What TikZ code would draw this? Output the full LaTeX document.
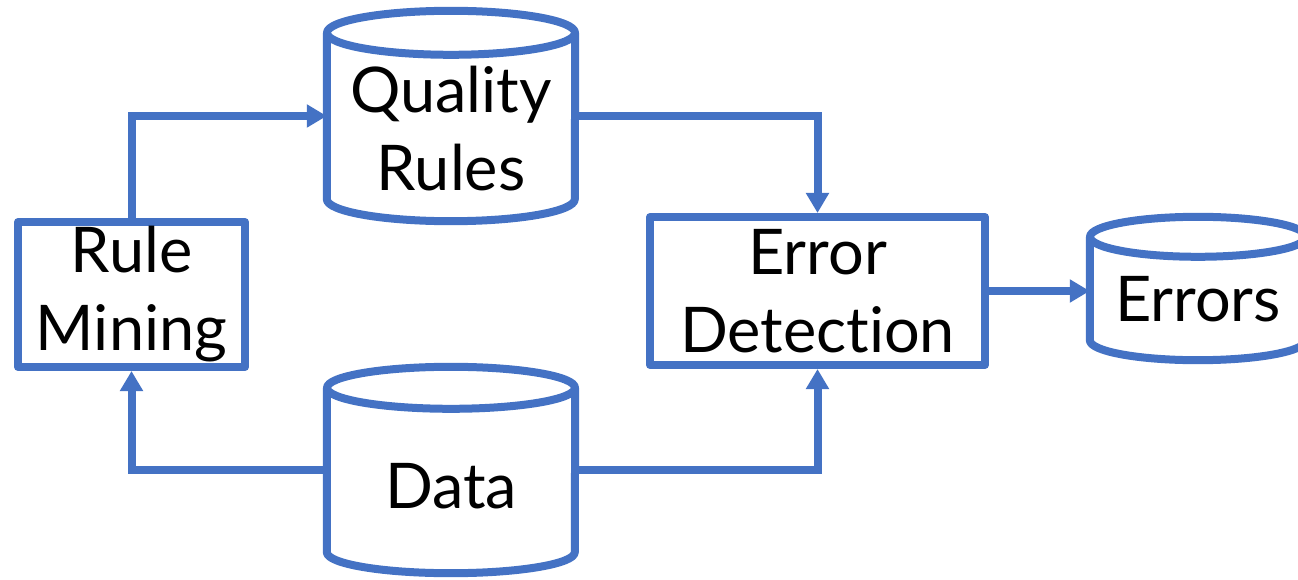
\documentclass[tikz,border=0pt]{standalone}
\usepackage{fontspec}
\setmainfont{Lato}[Ligatures={NoCommon,NoDiscretionary,NoContextual}]
\usetikzlibrary{arrows.meta,calc}
\definecolor{flowblue}{HTML}{4472C4}
\tikzset{
  outline/.style={draw=flowblue, line width=8pt, line join=round},
  boxnode/.style={outline, fill=white, rectangle, inner sep=0pt, align=center,
    font=\fontsize{63}{78}\selectfont},
  cylbody/.style={rectangle, inner sep=0pt, draw=none},
  cyltext/.style={align=center, inner sep=0pt, font=\fontsize{63}{78}\selectfont},
  flow/.style={draw=flowblue, line width=8pt, line join=miter,
    -{Triangle[length=20pt,width=22pt]}},
}
% cylinder outline around node #1 with end ellipse radii #2 (x) and #3 (y)
\newcommand\drawcylinder[3]{%
  \draw[outline, fill=white]
    ($(#1.north west)+(0,-#3)$) -- ($(#1.south west)+(0,#3)$)
    arc[start angle=180, end angle=360, x radius=#2, y radius=#3]
    -- ($(#1.north east)+(0,-#3)$);
  \draw[outline, fill=white] ($(#1.north)+(0,-#3)$)
    ellipse[x radius=#2, y radius=#3];
}
\begin{document}
\begin{tikzpicture}[x=1pt, y=1pt]
\useasboundingbox (0,0) rectangle (1298,579);

% stores
\node[cylbody, minimum width=248pt, minimum height=210pt] (qr) at (451,463) {};
\node[cylbody, minimum width=248pt, minimum height=206pt] (data) at (451,109) {};
\node[cylbody, minimum width=216pt, minimum height=143pt] (err) at (1198,290.5) {};
\drawcylinder{qr}{124}{22}
\drawcylinder{data}{124}{21}
\drawcylinder{err}{108}{20}
\node[cyltext] (qrtext) at ($(qr.center)+(0,-13)$) {Quality\\Rules};
\node[cyltext] (datatext) at ($(data.center)+(0,-16)$) {Data};
\node[cyltext] (errtext) at ($(err.center)+(0,-11)$) {Errors};

% processing steps
\node[boxnode, minimum width=227pt, minimum height=145pt] (rm) at (131.5,284.5) {Rule\\Mining};
\node[boxnode, minimum width=335pt, minimum height=148pt] (ed) at (817.5,288) {Error\\Detection};

% connectors
\draw[flow] (rm.north) |- (qr.west);
\draw[flow] (qr.east) -| (ed.north);
\draw[flow] (data.west) -| (rm.south);
\draw[flow] (data.east) -| (ed.south);
\draw[flow] (ed.east) -- (ed.east -| err.west);
\end{tikzpicture}
\end{document}
